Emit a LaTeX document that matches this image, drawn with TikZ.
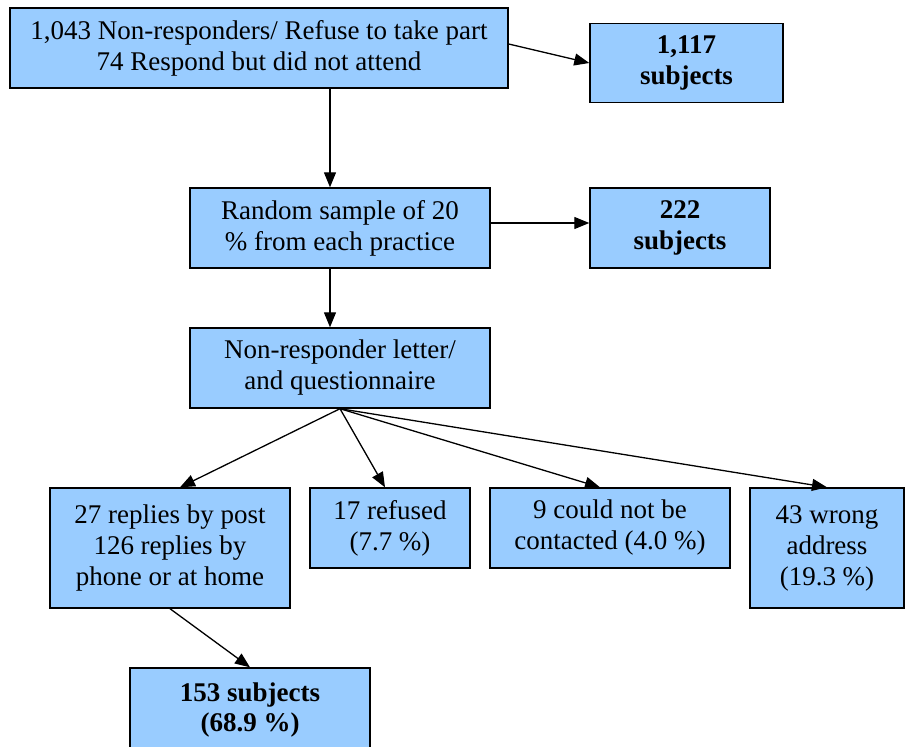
\documentclass[tikz,border=0pt]{standalone}
\usepackage{fontspec}
\setmainfont{Liberation Serif}
\usetikzlibrary{arrows.meta,calc}
\definecolor{boxblue}{HTML}{99CCFF}
\begin{document}
\begin{tikzpicture}[x=1pt,y=-1pt,
  box/.style={draw=black,line width=1.4pt,fill=boxblue,rectangle,align=center,
    inner sep=0pt,font=\rmfamily\fontsize{27}{31}\selectfont},
  bbox/.style={box,font=\rmfamily\bfseries\fontsize{27}{31}\selectfont},
  arr/.style={line width=1.3pt,-{Triangle[length=15pt,width=12pt]}}]
\useasboundingbox (0,0) rectangle (906,747);
\node[box,minimum width=498,minimum height=80] (A) at (259,48)
  {1,043 Non-responders/ Refuse to take part\\74 Respond but did not attend};
\node[bbox,minimum width=193,minimum height=79] (B) at (686.5,63)
  {1,117\\subjects};
\node[box,minimum width=300,minimum height=80] (C) at (340,228)
  {Random sample of 20\\\% from each practice};
\node[bbox,minimum width=180,minimum height=80] (D) at (680,228)
  {222\\subjects};
\node[box,minimum width=300,minimum height=80] (E) at (340,368)
  {Non-responder letter/\\and questionnaire};
\node[box,minimum width=240,minimum height=120] (F) at (170,548)
  {27 replies by post\\126 replies by\\phone or at home};
\node[box,minimum width=160,minimum height=80] (G) at (390,528)
  {17 refused\\(7.7 \%)};
\node[box,minimum width=240,minimum height=80] (H) at (610,528)
  {9 could not be\\contacted (4.0 \%)};
\node[box,minimum width=154,minimum height=120] (I) at (827,548)
  {43 wrong\\address\\(19.3 \%)};
\node[bbox,minimum width=240,minimum height=84] (J) at (250,710)
  {153 subjects\\(68.9 \%)};
\coordinate (Cn) at ([xshift=-10pt]C.north);
\coordinate (Cs) at ([xshift=-10pt]C.south);
\coordinate (En) at ([xshift=-10pt]E.north);
\draw[arr] ([yshift=4pt]A.east) -- (B.west);
\draw[arr] (A.south -| Cn) -- (Cn);
\draw[arr] ([yshift=5pt]C.east) -- ([yshift=5pt]D.west);
\draw[arr] (Cs) -- (En);
\draw[arr] (E.south) -- ([xshift=10pt]F.north);
\draw[arr] (E.south) -- ([xshift=-5pt]G.north);
\draw[arr] (E.south) -- ([xshift=-10pt]H.north);
\draw[arr] (E.south) -- (I.north);
\draw[arr] (F.south) -- (J.north);
\end{tikzpicture}
\end{document}
